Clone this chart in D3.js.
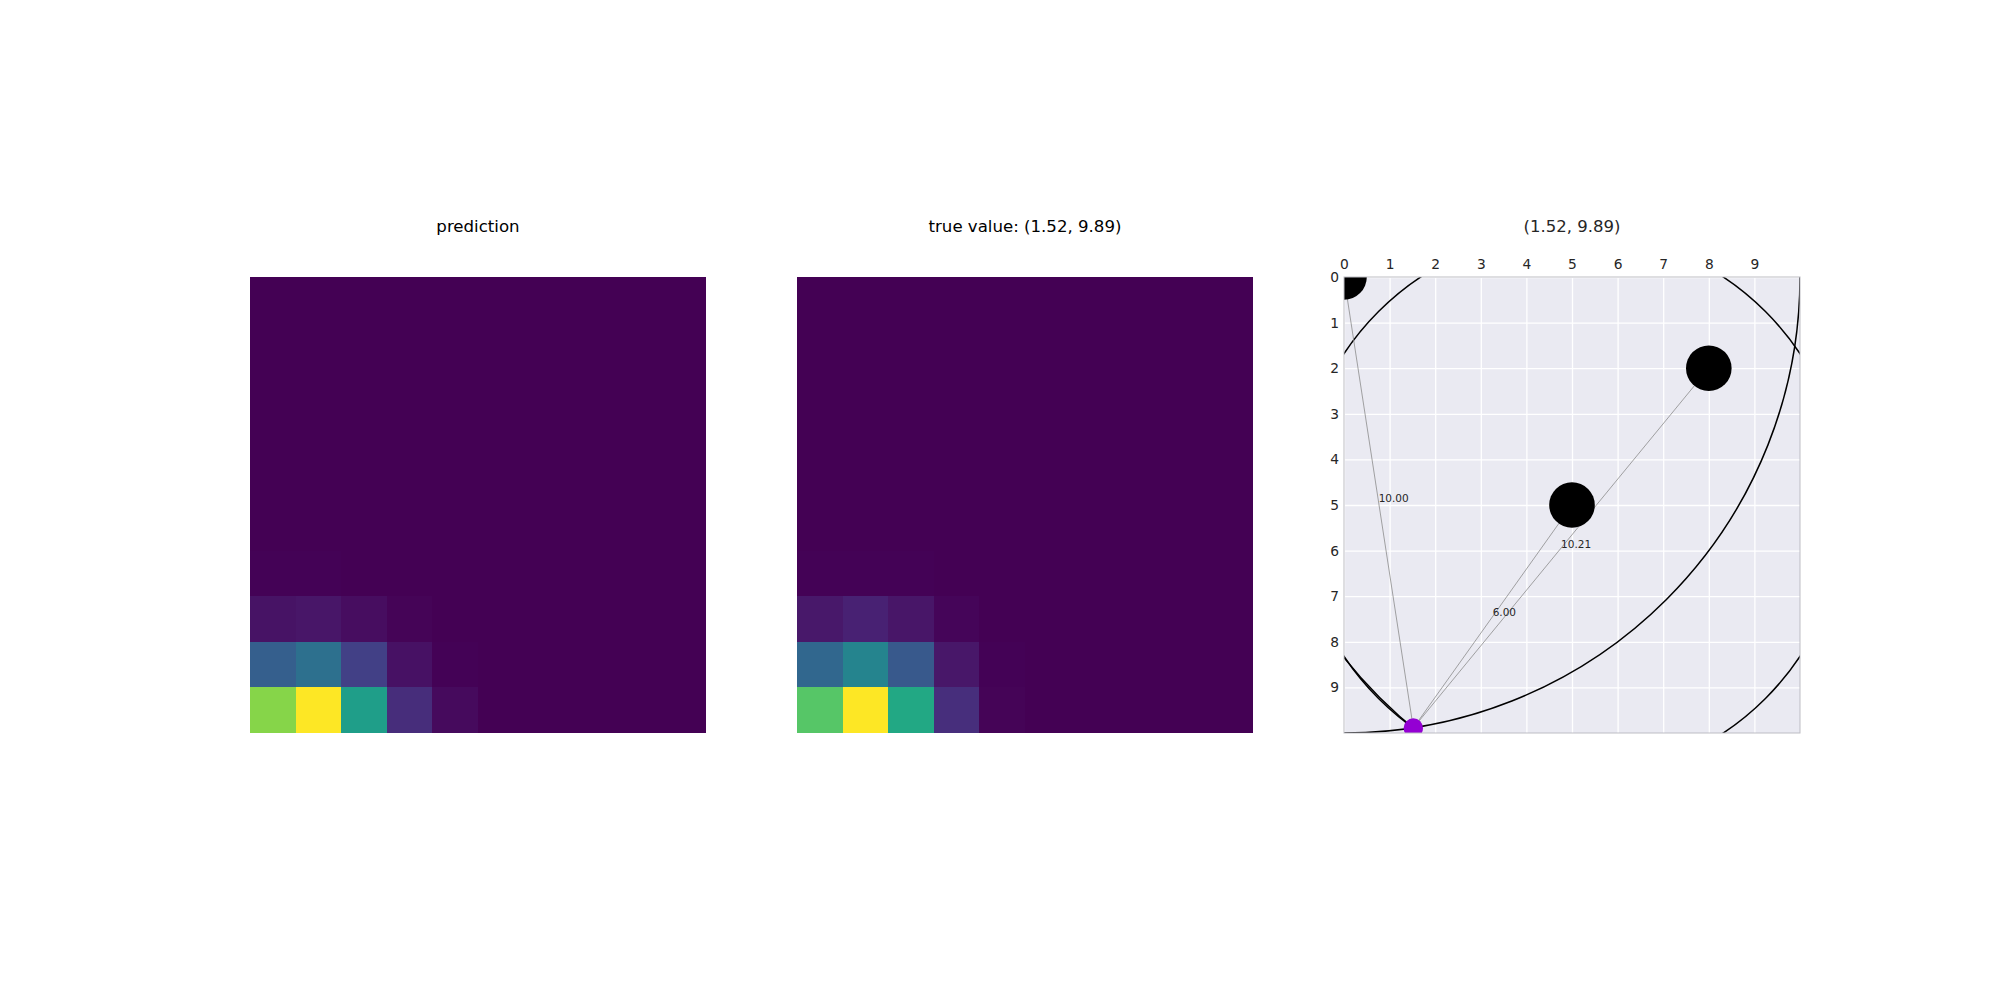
<!DOCTYPE html>
<html>
<head>
<meta charset="utf-8">
<script src="https://cdn.jsdelivr.net/npm/d3@7"></script>
<style>
  html, body { margin: 0; padding: 0; background: #ffffff; }
  svg { display: block; font-family: "DejaVu Sans", sans-serif; }
</style>
</head>
<body>
<svg id="chart" width="2000" height="1000"></svg>
<script>
// ---------- data ----------
const gridCols = [0,1,2,3,4,5,6,7,8,9];
const gridRows = [0,1,2,3,4,5,6,7,8,9];
const zeroRow = [0,0,0,0,0,0,0,0,0,0];

const predictionValues = [
  zeroRow, zeroRow, zeroRow, zeroRow, zeroRow, zeroRow,
  [0.006, 0.005, 0.003, 0.001, 0, 0, 0, 0, 0, 0],
  [0.050, 0.057, 0.035, 0.010, 0.002, 0, 0, 0, 0, 0],
  [0.300, 0.365, 0.190, 0.045, 0.006, 0.001, 0, 0, 0, 0],
  [0.820, 1.000, 0.555, 0.125, 0.025, 0.002, 0, 0, 0, 0]
];
const trueValues = [
  zeroRow, zeroRow, zeroRow, zeroRow, zeroRow, zeroRow,
  [0.005, 0.005, 0.004, 0.002, 0, 0, 0, 0, 0, 0],
  [0.065, 0.090, 0.055, 0.015, 0.002, 0, 0, 0, 0, 0],
  [0.330, 0.450, 0.275, 0.060, 0.005, 0.001, 0, 0, 0, 0],
  [0.735, 1.000, 0.600, 0.130, 0.010, 0.001, 0, 0, 0, 0]
];

const titles = ["prediction", "true value: (1.52, 9.89)", "(1.52, 9.89)"];

const tickValues = [0,1,2,3,4,5,6,7,8,9];
const anchorX = [0, 5, 8];
const anchorY = [0, 5, 2];
const anchorDist = [10.00, 6.00, 10.21];
const distLabels = ["10.00", "6.00", "10.21"];
const targetX = 1.52;
const targetY = 9.89;

// ---------- layout ----------
const svg = d3.select("#chart");
const size = 456;
const panelTop = 277;
const lefts = [250, 797, 1344];
const titleY = 232;

const color = d3.scaleSequential(d3.interpolateViridis).domain([0, 1]);

function heatmap(left, values, title) {
  const g = svg.append("g").attr("transform", `translate(${left},${panelTop})`);
  const x = d3.scaleBand().domain(gridCols).range([0, size]).paddingInner(0).paddingOuter(0);
  const y = d3.scaleBand().domain(gridRows).range([0, size]).paddingInner(0).paddingOuter(0);
  const cells = [];
  values.forEach((row, r) => row.forEach((v, c) => cells.push({r, c, v})));
  g.selectAll("rect.cell").data(cells).enter().append("rect")
    .attr("class", "cell")
    .attr("x", d => x(d.c))
    .attr("y", d => y(d.r))
    .attr("width", d => Math.min(x.bandwidth() + 0.5, size - x(d.c)))
    .attr("height", d => Math.min(y.bandwidth() + 0.5, size - y(d.r)))
    .attr("fill", d => color(d.v))
    .attr("shape-rendering", "crispEdges");
  svg.append("text")
    .attr("x", left + size / 2)
    .attr("y", titleY)
    .attr("text-anchor", "middle")
    .attr("font-size", "16.6px")
    .attr("fill", "#000000")
    .text(title);
}

heatmap(lefts[0], predictionValues, titles[0]);
heatmap(lefts[1], trueValues, titles[1]);

// ---------- third panel ----------
const left3 = lefts[2];
const g3 = svg.append("g").attr("transform", `translate(${left3},${panelTop})`);
const xs = d3.scaleLinear().domain([0, 10]).range([0, size]);
const ys = d3.scaleLinear().domain([0, 10]).range([0, size]);

svg.append("defs").append("clipPath").attr("id", "clip3")
  .append("rect").attr("x", 0).attr("y", 0).attr("width", size).attr("height", size);

g3.append("rect").attr("x", 0).attr("y", 0).attr("width", size).attr("height", size)
  .attr("fill", "#EAEAF2");

// grid via axes
const xAxis = d3.axisTop(xs).tickValues(tickValues).tickSize(-size).tickPadding(8).tickFormat(d3.format("d"));
const yAxis = d3.axisLeft(ys).tickValues(tickValues).tickSize(-size).tickPadding(5).tickFormat(d3.format("d"));
const gx = g3.append("g").call(xAxis);
const gy = g3.append("g").call(yAxis);
[gx, gy].forEach(a => {
  a.select(".domain").remove();
  a.selectAll(".tick line").attr("stroke", "#ffffff").attr("stroke-width", 1.3);
  a.selectAll(".tick text").attr("fill", "#262626").attr("font-size", "13.8px")
    .attr("font-family", "DejaVu Sans, sans-serif");
});

const plot = g3.append("g").attr("clip-path", "url(#clip3)");
const anchors = anchorX.map((ax, i) => ({x: ax, y: anchorY[i], r: anchorDist[i], label: distLabels[i]}));

// distance circles
plot.selectAll("circle.ring").data(anchors).enter().append("circle")
  .attr("class", "ring")
  .attr("cx", d => xs(d.x)).attr("cy", d => ys(d.y))
  .attr("r", d => xs(d.r) - xs(0))
  .attr("fill", "none").attr("stroke", "#000000").attr("stroke-width", 1.5);

// connecting lines
plot.selectAll("line.link").data(anchors).enter().append("line")
  .attr("class", "link")
  .attr("x1", xs(targetX)).attr("y1", ys(targetY))
  .attr("x2", d => xs(d.x)).attr("y2", d => ys(d.y))
  .attr("stroke", "#8c8c8c").attr("stroke-width", 0.8);

// anchor dots
plot.selectAll("circle.anchor").data(anchors).enter().append("circle")
  .attr("class", "anchor")
  .attr("cx", d => xs(d.x)).attr("cy", d => ys(d.y))
  .attr("r", xs(0.5) - xs(0))
  .attr("fill", "#000000");

// target dot
plot.append("circle")
  .attr("cx", xs(targetX)).attr("cy", ys(targetY))
  .attr("r", 9.7)
  .attr("fill", "#9400D3");

// distance labels
g3.selectAll("text.dist").data(anchors).enter().append("text")
  .attr("class", "dist")
  .attr("x", d => xs((d.x + targetX) / 2))
  .attr("y", d => ys((d.y + targetY) / 2))
  .attr("font-size", "10.5px")
  .attr("fill", "#262626")
  .text(d => d.label);

// frame
g3.append("rect").attr("x", 0).attr("y", 0).attr("width", size).attr("height", size)
  .attr("fill", "none").attr("stroke", "#bdbdc4").attr("stroke-width", 1);

svg.append("text")
  .attr("x", left3 + size / 2)
  .attr("y", titleY)
  .attr("text-anchor", "middle")
  .attr("font-size", "16.5px")
  .attr("fill", "#262626")
  .text(titles[2]);
</script>
</body>
</html>
